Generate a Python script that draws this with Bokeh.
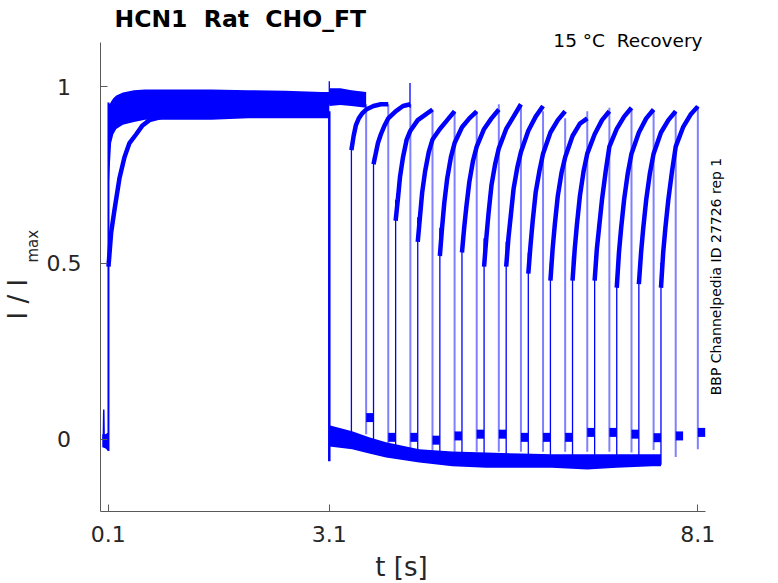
import math
from bokeh.plotting import figure
from bokeh.models import Label, FixedTicker, Range1d
from bokeh.embed import file_html
from bokeh.resources import INLINE

BLUE = "#0000ff"
FONT = "DejaVu Sans"

# ---------------- data ----------------
x_ticks = [0.1, 3.1, 8.1]
x_tick_labels = ["0.1", "3.1", "8.1"]
y_ticks = [0, 0.5, 1]
y_tick_labels = ["0", "0.5", "1"]
x_axis_bounds = (0.0, 8.2)
y_axis_bounds = (-0.205, 1.125)

# holding level before the first pulse (noise envelope)
pre_t = [0.02, 0.06, 0.104]
pre_hi = [0.015, 0.015, 0.02]
pre_lo = [-0.022, -0.025, -0.033]
pre_spike_t = [0.034, 0.04, 0.046]
pre_spike_I = [0.0, 0.085, 0.0]

# first pulse: envelope of the fast sweeps
fp_t = [0.104, 0.12, 0.14, 0.17, 0.21, 0.3, 0.45, 0.6, 1.0, 1.5, 2.0, 2.5, 3.0, 3.1]
fp_hi = [0.955, 0.95, 0.958, 0.967, 0.975, 0.983, 0.99, 0.992, 0.992, 0.992, 0.99, 0.988, 0.985, 0.985]
fp_lo = [0.70, 0.765, 0.84, 0.865, 0.88, 0.892, 0.9, 0.906, 0.906, 0.906, 0.91, 0.91, 0.91, 0.91]
# first pulse: the slowly activating sweep
slow_t = [0.104, 0.14, 0.185, 0.253, 0.321, 0.389, 0.48, 0.566, 0.66, 0.84]
slow_I = [0.49, 0.585, 0.65, 0.74, 0.80, 0.84, 0.865, 0.89, 0.905, 0.915]

# zero-interval sweep, still hyperpolarised after 3.1 s
s0_t = [3.1, 3.25, 3.4, 3.6]
s0_hi = [0.995, 0.995, 0.99, 0.985]
s0_lo = [0.945, 0.948, 0.945, 0.94]

# tail current envelope after 3.1 s
bl_t = [3.1, 3.41, 3.64, 3.87, 4.32, 4.77, 5.23, 5.7, 6.12, 6.6, 7.0, 7.48, 7.6]
bl_hi = [0.04, 0.023, 0.006, -0.008, -0.028, -0.034, -0.037, -0.04, -0.042, -0.042, -0.042, -0.042, -0.042]
bl_lo = [-0.02, -0.028, -0.04, -0.051, -0.065, -0.076, -0.08, -0.08, -0.08, -0.085, -0.08, -0.076, -0.076]

# second (test) pulses
test_start = [3.4, 3.7, 4.0, 4.3, 4.6, 4.9, 5.2, 5.5, 5.8, 6.1, 6.4, 6.7, 7.0, 7.3, 7.6]
test_base = [-0.02, -0.04, -0.05, -0.06, -0.065, -0.07, -0.07, -0.075, -0.075, -0.075,
             -0.078, -0.078, -0.078, -0.075, -0.072]
test_peak = [0.84, 0.80, 0.68, 0.63, 0.60, 0.575, 0.57, 0.56, 0.53, 0.50, 0.52, 0.52, 0.50, 0.50, 0.50]
pulse_offsets = [0, 0.03, 0.06, 0.1, 0.15, 0.2, 0.3, 0.4, 0.5]
test_I = [
    [0.82, 0.86, 0.89, 0.91, 0.925, 0.935, 0.945, 0.95, 0.95],
    [0.78, 0.81, 0.84, 0.865, 0.89, 0.91, 0.93, 0.945, 0.95],
    [0.62, 0.68, 0.745, 0.80, 0.85, 0.875, 0.905, 0.92, 0.935],
    [0.56, 0.63, 0.70, 0.76, 0.815, 0.85, 0.88, 0.905, 0.93],
    [0.52, 0.60, 0.67, 0.74, 0.80, 0.84, 0.885, 0.91, 0.93],
    [0.53, 0.60, 0.66, 0.73, 0.79, 0.83, 0.88, 0.91, 0.935],
    [0.49, 0.57, 0.64, 0.72, 0.78, 0.825, 0.88, 0.915, 0.95],
    [0.49, 0.57, 0.63, 0.71, 0.77, 0.815, 0.875, 0.915, 0.945],
    [0.47, 0.55, 0.62, 0.70, 0.76, 0.81, 0.87, 0.905, 0.93],
    [0.45, 0.54, 0.61, 0.69, 0.755, 0.80, 0.86, 0.895, 0.91],
    [0.45, 0.54, 0.61, 0.69, 0.76, 0.81, 0.865, 0.905, 0.93],
    [0.45, 0.54, 0.60, 0.68, 0.76, 0.83, 0.88, 0.915, 0.94],
    [0.43, 0.53, 0.60, 0.68, 0.755, 0.81, 0.87, 0.91, 0.935],
    [0.44, 0.53, 0.60, 0.68, 0.755, 0.81, 0.87, 0.905, 0.93],
    [0.43, 0.53, 0.60, 0.68, 0.76, 0.83, 0.885, 0.92, 0.944],
]

# end of each second pulse (sweep 0 first) and the short level after it
drop_t = [3.6, 3.9, 4.2, 4.5, 4.8, 5.1, 5.4, 5.7, 6.0, 6.3, 6.6, 6.9, 7.2, 7.5, 7.8, 8.1]
drop_top = [0.95, 0.95, 0.95, 0.935, 0.93, 0.93, 0.95, 0.945, 0.93, 0.91, 0.93, 0.94, 0.935, 0.93, 0.93, 0.944]
drop_bottom = [0.015, -0.035, -0.035, -0.035, -0.035, -0.035, -0.035, -0.035, -0.035, -0.035,
               -0.035, -0.035, -0.037, -0.03, -0.05, -0.028]
post_I = [0.062, 0.006, 0.006, -0.002, 0.01, 0.015, 0.015, 0.006, 0.006, 0.006,
          0.02, 0.02, 0.015, 0.005, 0.01, 0.02]
post_len = 0.1

# brief transients
spike_t = [3.1, 4.195]
spike_lo = [0.95, 0.94]
spike_hi = [1.015, 1.01]

# ---------------- page geometry (page pixels of the axes corners) ----------------
W, H = 770, 580
PAGE_OFF = 1
AX_LEFT, AX_RIGHT, AX_TOP, AX_BOTTOM = 101.3, 705.7, 43.0, 512.3
sx = (AX_RIGHT - AX_LEFT) / (x_axis_bounds[1] - x_axis_bounds[0])
sy = (AX_BOTTOM - AX_TOP) / (y_axis_bounds[1] - y_axis_bounds[0])

def px_to_data(X, Y):
    return (x_axis_bounds[0] + (X - AX_LEFT) / sx,
            y_axis_bounds[1] - (Y - AX_TOP) / sy)

x0, y1 = px_to_data(PAGE_OFF, PAGE_OFF)
x1, y0 = px_to_data(PAGE_OFF + W, PAGE_OFF + H)

p = figure(width=W, height=H, x_range=Range1d(x0, x1), y_range=Range1d(y0, y1),
           output_backend="svg", toolbar_location=None, title=None,
           min_border_left=0, min_border_right=0, min_border_top=0, min_border_bottom=0)
p.outline_line_color = None
p.xgrid.visible = False
p.ygrid.visible = False
p.background_fill_color = "white"
p.border_fill_color = "white"

for ax in (p.xaxis[0], p.yaxis[0]):
    ax.axis_line_color = "#5a5a5a"
    ax.major_tick_line_color = "#5a5a5a"
    ax.major_tick_in = 7
    ax.major_tick_out = 0
    ax.minor_tick_line_color = None
    ax.major_label_text_font = FONT
    ax.major_label_text_font_size = "22px"
    ax.major_label_text_color = "#262626"
p.xaxis.fixed_location = y_axis_bounds[0]
p.yaxis.fixed_location = x_axis_bounds[0]
p.xaxis.bounds = x_axis_bounds
p.yaxis.bounds = y_axis_bounds
p.xaxis.ticker = FixedTicker(ticks=x_ticks)
p.yaxis.ticker = FixedTicker(ticks=y_ticks)
p.xaxis.major_label_overrides = {t: s for t, s in zip(x_ticks, x_tick_labels)}
p.xaxis.major_label_standoff = 14
# y tick labels are centred in the reference; they are drawn below as centred labels
p.yaxis.major_label_overrides = {t: "" for t in y_ticks}

# holding level
p.varea(x=pre_t, y1=pre_lo, y2=pre_hi, fill_color=BLUE)
p.line(pre_spike_t, pre_spike_I, line_color=BLUE, line_width=1.5)
# first pulse
p.segment(x0=[fp_t[0]], y0=[pre_lo[-1]], x1=[fp_t[0]], y1=[fp_hi[0]], line_color=BLUE, line_width=2)
p.varea(x=fp_t, y1=fp_lo, y2=fp_hi, fill_color=BLUE)
p.line(slow_t, slow_I, line_color=BLUE, line_width=4.5)
# end of first pulse
p.segment(x0=[fp_t[-1]], y0=[fp_lo[-1] + 0.02], x1=[fp_t[-1]], y1=[-0.062], line_color=BLUE, line_width=2.5)
p.varea(x=s0_t, y1=s0_lo, y2=s0_hi, fill_color=BLUE)
p.varea(x=bl_t, y1=bl_lo, y2=bl_hi, fill_color=BLUE)

# test pulses
p.segment(x0=test_start, y0=test_base, x1=test_start, y1=test_peak, line_color=BLUE, line_width=1.3)
xs = [[t0 + o for o in pulse_offsets] for t0 in test_start]
p.multi_line(xs=xs, ys=test_I, line_color=BLUE, line_width=4.5)
p.segment(x0=drop_t, y0=drop_top, x1=drop_t, y1=drop_bottom, line_color=BLUE, line_alpha=0.5, line_width=2)
p.segment(x0=drop_t, y0=post_I, x1=[t + post_len for t in drop_t], y1=post_I, line_color=BLUE, line_width=9)
p.segment(x0=spike_t, y0=spike_lo, x1=spike_t, y1=spike_hi, line_color=BLUE, line_width=1.3)

# ---------------- texts ----------------
def add_label(text, X, Y, size, align="left", baseline="middle", angle=0.0, style="normal", color="#000000"):
    x, y = px_to_data(X, Y)
    p.add_layout(Label(x=x, y=y, text=text, text_font=FONT, text_font_size=size, text_align=align,
                       text_baseline=baseline, angle=angle, text_font_style=style, text_color=color))

# y tick labels, centred at a fixed page column, vertically at each tick's value
YTICK_X = 64.5
for t, s in zip(y_ticks, y_tick_labels):
    xl, _ = px_to_data(YTICK_X, 0)
    p.add_layout(Label(x=xl, y=t, text=s, text_font=FONT, text_font_size="22px", text_align="center",
                       text_baseline="middle", text_color="#262626"))

NB = "\u00a0"
add_label("HCN1 " + NB + "Rat " + NB + "CHO_FT", 115, 19, "23.5px", style="bold")
add_label("15 °C " + NB + "Recovery", 703, 41, "18.5px", align="right")
add_label("BBP Channelpedia ID 27726 rep 1", 716, 277, "14px", align="center", angle=math.pi / 2)
add_label("t [s]", 402, 567, "26px", align="center", color="#262626")
add_label("I / I", 18, 320, "26px", align="left", angle=math.pi / 2, color="#262626")
add_label("max", 33, 263, "15px", align="left", angle=math.pi / 2, color="#262626")

open("out.html", "w").write(file_html(p, INLINE))
